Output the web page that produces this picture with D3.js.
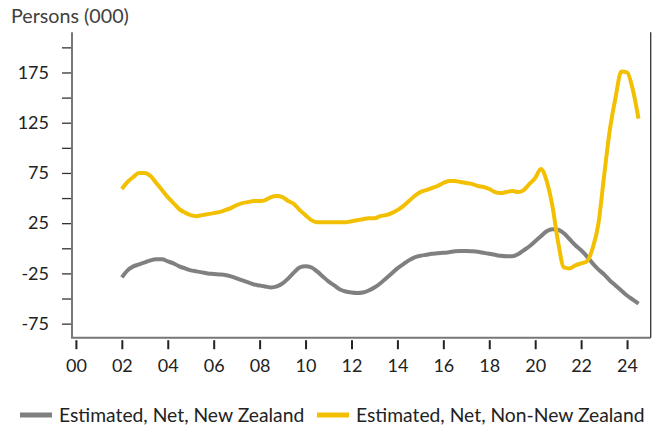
<!DOCTYPE html>
<html>
<head>
<meta charset="utf-8">
<script src="https://cdn.jsdelivr.net/npm/d3@7"></script>
<style>
  body { margin: 0; background: #fff; }
  svg { display: block; font-family: Lato, "Open Sans", sans-serif; }
</style>
</head>
<body>
<svg class="chart" width="660" height="427"></svg>
<script>
// quarterly, 2002 Q1 .. 2024 Q3
var quarters = d3.range(2002, 2024.51, 0.25);

// Estimated, Net, New Zealand (000)
var nzValues = [
  -29, -22, -18, -16,
  -14, -12, -11, -11,
  -13, -15, -18, -20,
  -22, -23, -24, -25,
  -25.5, -26, -26.5, -28,
  -30, -32, -34, -36,
  -37, -38, -39, -38,
  -35, -30, -24, -19,
  -18, -19, -23, -28,
  -33, -37, -41, -43,
  -44, -44.5, -44, -42,
  -39, -35, -30, -25,
  -20, -16, -12, -9,
  -7.5, -6.5, -5.5, -5,
  -4.5, -4, -3, -2.7,
  -2.7, -3, -3.5, -4.5,
  -5.5, -6.5, -7.5, -8,
  -8, -6, -2, 2,
  7, 12, 17, 19,
  18.5, 15, 9, 3,
  -2, -8, -15, -21,
  -26, -32, -37, -42,
  -47, -51, -55
];

// Estimated, Net, Non-New Zealand (000)
var nonNzValues = [
  59, 66, 71, 75,
  75, 72, 65, 58,
  51, 45, 39, 35.5,
  33, 32, 33, 34,
  35, 36, 38, 40,
  43, 45, 46, 47,
  47, 48, 51, 52,
  51, 47, 44, 38,
  33, 28, 26, 26,
  26, 26, 26, 26,
  27, 28, 29, 30,
  30, 32, 33, 35,
  38, 42, 47, 52,
  56, 58, 60, 62,
  65, 67, 67, 66,
  65, 64, 62, 61,
  59, 56, 55, 56,
  57, 56, 58, 64,
  70, 79, 67, 42,
  6, -19, -20, -17,
  -15, -13, 0, 24,
  72, 118, 150, 176,
  175, 158, 129
];

var yearTicks = d3.range(2000, 2025, 2);
var yLabelTicks = [175, 125, 75, 25, -25, -75];
var yMinorTicks = [200, 150, 100, 50, 0, -50];

var seriesNames = ['Estimated, Net, New Zealand', 'Estimated, Net, Non-New Zealand'];
var seriesColors = ['#808080', '#f2c000'];

(function() {
  'use strict';
  var left = 72, right = 650.7, top = 32.3, bottom = 337.7;

  var x = d3.scaleLinear()
    .domain([1999.83, 2025.03])
    .range([left, right]);

  var y = d3.scaleLinear()
    .domain([-89, 215])
    .range([bottom, top]);

  var svg = d3.select('.chart');

  svg.append('text')
    .attr('x', 11)
    .attr('y', 23)
    .attr('fill', '#404040')
    .style('font-size', '19.7px')
    .text('Persons (000)');

  // y axis ticks
  var yAxis = d3.axisLeft(y)
    .tickValues(yLabelTicks.concat(yMinorTicks))
    .tickSize(10)
    .tickPadding(13)
    .tickFormat(function(d) { return yLabelTicks.indexOf(d) >= 0 ? d : ''; });

  var gy = svg.append('g')
    .attr('transform', 'translate(' + left + ',0)')
    .call(yAxis);
  gy.select('.domain').remove();
  gy.selectAll('.tick line').attr('stroke', '#333').attr('stroke-width', 1.3);
  gy.selectAll('.tick text').attr('fill', '#222').style('font-size', '18px').style('font-family', 'Lato, sans-serif');

  // x axis ticks (below, with a small gap)
  var xAxis = d3.axisBottom(x)
    .tickValues(yearTicks)
    .tickSize(9)
    .tickPadding(10)
    .tickFormat(function(d) { return d3.format('02d')(d % 100); });

  var gx = svg.append('g')
    .attr('transform', 'translate(0,' + (bottom + 2.5) + ')')
    .call(xAxis);
  gx.select('.domain').remove();
  gx.selectAll('.tick line').attr('stroke', '#222').attr('stroke-width', 2);
  gx.selectAll('.tick text').attr('fill', '#222').style('font-size', '18px').style('font-family', 'Lato, sans-serif');

  // frame: left, bottom, right
  svg.append('path')
    .attr('d', 'M' + left + ',' + top + 'V' + bottom + 'H' + right)
    .attr('fill', 'none')
    .attr('stroke', '#777')
    .attr('stroke-width', 2);
  svg.append('line')
    .attr('x1', right).attr('x2', right)
    .attr('y1', top).attr('y2', bottom)
    .attr('stroke', '#333')
    .attr('stroke-width', 1.3);

  var line = d3.line()
    .x(function(d) { return x(d[0]); })
    .y(function(d) { return y(d[1]); })
    .curve(d3.curveMonotoneX);

  [nzValues, nonNzValues].forEach(function(vals, i) {
    svg.append('path')
      .datum(d3.zip(quarters, vals))
      .attr('d', line)
      .attr('fill', 'none')
      .attr('stroke', seriesColors[i])
      .attr('stroke-width', 4)
      .attr('stroke-linejoin', 'round');
  });

  // legend
  var legendX = [20, 317];
  seriesNames.forEach(function(name, i) {
    var g = svg.append('g').attr('transform', 'translate(' + legendX[i] + ',415)');
    g.append('line')
      .attr('x1', 0).attr('x2', 32)
      .attr('stroke', seriesColors[i])
      .attr('stroke-width', 5);
    g.append('text')
      .attr('x', 39)
      .attr('y', 7)
      .attr('fill', '#222')
      .style('font-size', '19.3px')
      .text(name);
  });
}());
</script>
</body>
</html>
